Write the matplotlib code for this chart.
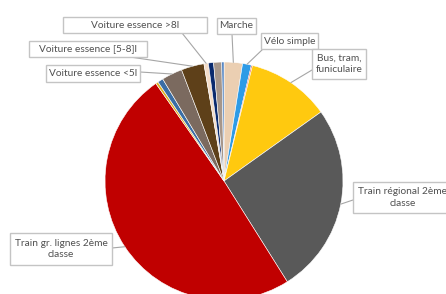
import numpy as np
import matplotlib
matplotlib.use("Agg")
import matplotlib.pyplot as plt
from matplotlib.patches import Rectangle

W, H = 446, 294

# slice data, clockwise from 12 o'clock (percent of total)
labels = ["Marche", "Vélo simple", "", "Bus, tram,\nfuniculaire",
          "Train régional 2ème\nclasse", "Train gr. lignes 2ème\nclasse",
          "", "", "Voiture essence <5l", "Voiture essence [5-8]l",
          "Voiture essence >8l", "", "", ""]
values = [2.5, 1.2, 0.15, 11.3, 25.9, 49.2, 0.35, 0.75, 2.8, 3.1, 0.6, 0.7, 1.1, 0.3]
colors = ["#EBCFB2", "#2E9BE6", "#D02020", "#FFC90F", "#595959", "#C00000",
          "#E0B020", "#3A6EA5", "#7B6A5F", "#5E4019", "#F3DCC8", "#0A2A6E",
          "#A6968A", "#4A7EBF"]

# label boxes in image pixels: (x0, y0, x1, y1) and the line start on the box
boxes = {
    "Marche": ((217, 18, 256, 34), (232, 34)),
    "Vélo simple": ((261, 33, 318, 49), (263, 49)),
    "Bus, tram,\nfuniculaire": ((312, 49, 366, 79), (312, 70)),
    "Train régional 2ème\nclasse": ((353, 182, 452, 213), (353, 200)),
    "Train gr. lignes 2ème\nclasse": ((10, 233, 112, 265), (112, 248)),
    "Voiture essence <5l": ((46, 65, 140, 82), (140, 72)),
    "Voiture essence [5-8]l": ((29, 41, 147, 57), (130, 57)),
    "Voiture essence >8l": ((63, 17, 207, 33), (182, 33)),
}

plt.rcParams['font.family'] = ['Lato', 'DejaVu Sans']
fig = plt.figure(figsize=(W / 100, H / 100), dpi=100)
cx, cy, r = 224, 181, 119
ax = fig.add_axes([(cx - r) / W, (H - cy - r) / H, 2 * r / W, 2 * r / H])
wedges, _ = ax.pie(values, colors=colors, startangle=90, counterclock=False,
                   wedgeprops=dict(edgecolor="white", linewidth=0.4))
ax.set_xlim(-1, 1)
ax.set_ylim(-1, 1)
ax.axis("off")

for w, lab in zip(wedges, labels):
    if not lab:
        continue
    (x0, y0, x1, y1), (lx, ly) = boxes[lab]
    fig.patches.append(Rectangle((x0 / W, 1 - y1 / H), (x1 - x0) / W, (y1 - y0) / H,
                                 transform=fig.transFigure, facecolor="white",
                                 edgecolor="#C4C4C4", linewidth=1.0, zorder=3))
    fig.text((x0 + x1) / 2 / W, 1 - (y0 + y1) / 2 / H, lab, ha="center", va="center",
             fontsize=7.3, color="#505050", linespacing=1.3, zorder=4)
    ang = np.deg2rad((w.theta1 + w.theta2) / 2)
    ax.annotate("", xy=(np.cos(ang), np.sin(ang)), xycoords="data",
                xytext=(lx / W, 1 - ly / H), textcoords="figure fraction",
                arrowprops=dict(arrowstyle="-", color="#A6A6A6", lw=0.8,
                                shrinkA=0, shrinkB=0), zorder=2)

fig.savefig("out.png", dpi=100)
